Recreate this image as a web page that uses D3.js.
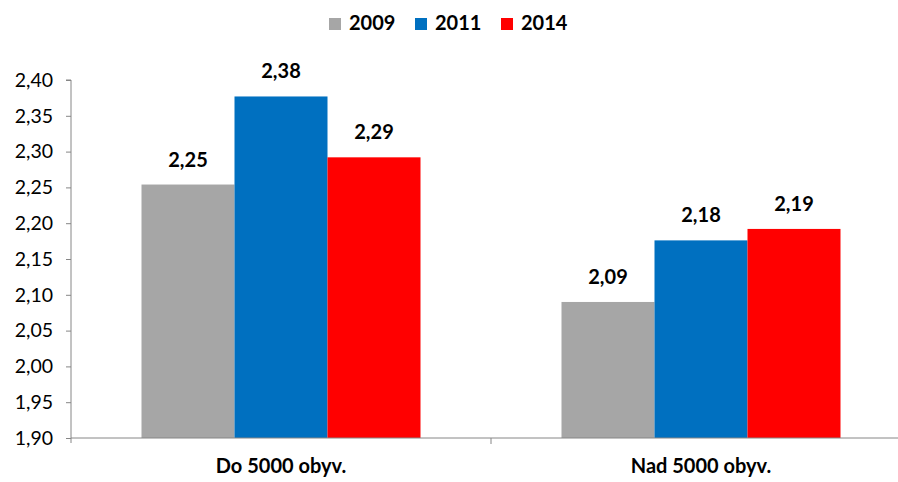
<!DOCTYPE html>
<html lang="cs">
<head>
<meta charset="UTF-8" />
<title>Chart</title>
<script src="https://cdn.jsdelivr.net/npm/d3@7"></script>
<style>
  body { margin: 0; background: #fff; }
  svg text { font-family: Lato, "Open Sans", sans-serif; fill: #000; }
</style>
</head>
<body>
<script>
var categories = ["Do 5000 obyv.", "Nad 5000 obyv."];
var years = ["2009", "2011", "2014"];
var colors = ["#a6a6a6", "#0070c0", "#ff0000"];
var values2009 = [2.254, 2.090];
var values2011 = [2.377, 2.176];
var values2014 = [2.292, 2.192];
var labels2009 = ["2,25", "2,09"];
var labels2011 = ["2,38", "2,18"];
var labels2014 = ["2,29", "2,19"];
var yTicks = [1.90, 1.95, 2.00, 2.05, 2.10, 2.15, 2.20, 2.25, 2.30, 2.35, 2.40];

var w = 898, h = 482;
var margin = { top: 80, left: 71, right: -13, bottom: 44 };

var svg = d3.select("body").append("svg")
  .attr("width", w)
  .attr("height", h);

var series = [values2009, values2011, values2014];
var seriesLabels = [labels2009, labels2011, labels2014];

var x0 = d3.scaleBand()
  .domain(categories)
  .range([margin.left, w - margin.right])
  .padding(0);

// the three bars cover 279 of the 420 px of each category
var x1 = d3.scaleBand()
  .domain(years)
  .range([70.5, x0.bandwidth() - 70.5])
  .padding(0);

var y = d3.scaleLinear()
  .domain([1.9, 2.4])
  .range([h - margin.bottom, margin.top]);

// bars + value labels
years.forEach(function(yr, i) {
  svg.selectAll(".bar" + yr)
    .data(categories)
    .enter()
    .append("rect")
    .attr("x", function(d) { return x0(d) + x1(yr); })
    .attr("width", x1.bandwidth())
    .attr("y", function(d, j) { return y(series[i][j]); })
    .attr("height", function(d, j) { return y(1.9) - y(series[i][j]); })
    .attr("fill", colors[i]);

  svg.selectAll(".lab" + yr)
    .data(categories)
    .enter()
    .append("text")
    .attr("x", function(d) { return x0(d) + x1(yr) + x1.bandwidth() / 2; })
    .attr("y", function(d, j) { return y(series[i][j]) - 18; })
    .attr("text-anchor", "middle")
    .style("font-size", "20px")
    .style("font-weight", "bold")
    .text(function(d, j) { return seriesLabels[i][j]; });
});

// y axis
var yAxis = d3.axisLeft(y)
  .tickValues(yTicks)
  .tickSize(5)
  .tickPadding(13)
  .tickFormat(function(d) { return d3.format(".2f")(d).replace(".", ","); });

var yg = svg.append("g")
  .attr("transform", "translate(" + margin.left + ",0)")
  .call(yAxis);
yg.selectAll("path, line").attr("stroke", "#868686");
yg.select(".domain").attr("d", "M-5," + y(2.4) + "H0V" + (y(1.9) + 5));
yg.selectAll("text")
  .style("font-size", "19.5px")
  .style("font-family", "Lato, 'Open Sans', sans-serif");

// x axis
var xg = svg.append("g")
  .attr("transform", "translate(0," + y(1.9) + ")");
xg.append("line")
  .attr("x1", margin.left).attr("x2", w - margin.right)
  .attr("stroke", "#868686");
xg.selectAll(".tk")
  .data(categories.slice(1))
  .enter()
  .append("line")
  .attr("x1", function(d) { return x0(d); })
  .attr("x2", function(d) { return x0(d); })
  .attr("y1", 0).attr("y2", 6)
  .attr("stroke", "#868686");
xg.selectAll(".cat")
  .data(categories)
  .enter()
  .append("text")
  .attr("x", function(d) { return x0(d) + x0.bandwidth() / 2; })
  .attr("y", 35)
  .attr("text-anchor", "middle")
  .style("font-size", "20px")
  .style("font-weight", "bold")
  .text(function(d) { return d; });

// legend
var legendX = [329, 415, 501];
var lg = svg.append("g");
years.forEach(function(yr, i) {
  lg.append("rect")
    .attr("x", legendX[i]).attr("y", 18)
    .attr("width", 12).attr("height", 12)
    .attr("fill", colors[i]);
  lg.append("text")
    .attr("x", legendX[i] + 20).attr("y", 30)
    .style("font-size", "20px")
    .style("font-weight", "bold")
    .text(yr);
});
</script>
</body>
</html>
